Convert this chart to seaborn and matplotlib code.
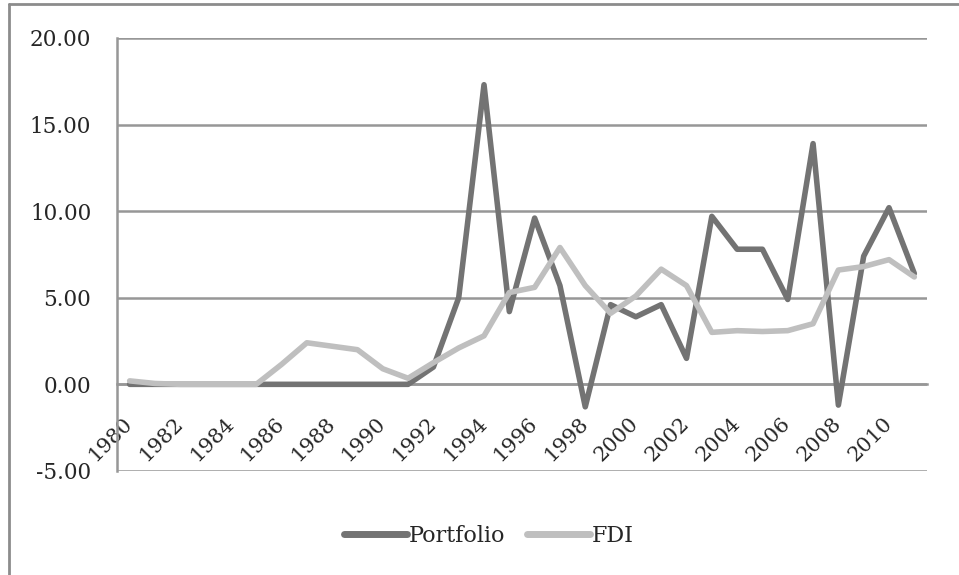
import matplotlib
matplotlib.use("Agg")
import matplotlib.pyplot as plt
from matplotlib.lines import Line2D
import matplotlib.transforms as mtrans
import seaborn as sns
import pandas as pd
import numpy as np

years = [str(y) for y in range(1980, 2012)]
portfolio = [0, 0, 0, 0, 0, 0, 0, 0, 0, 0, 0, 0, 1.0, 5.0, 17.3, 4.2, 9.6, 5.7,
             -1.3, 4.6, 3.9, 4.6, 1.5, 9.7, 7.8, 7.8, 4.9, 13.9, -1.2, 7.4, 10.2, 6.4]
fdi = [0.2, 0.05, 0, 0, 0, 0, 1.15, 2.4, 2.2, 2.0, 0.9, 0.35, 1.25, 2.1, 2.8, 5.3,
       5.6, 7.9, 5.7, 4.1, 5.1, 6.65, 5.7, 3.0, 3.1, 3.05, 3.1, 3.5, 6.6, 6.8, 7.2, 6.2]
series_names = ["Portfolio", "FDI"]
y_ticks = [-5, 0, 5, 10, 15, 20]

sns.set_style("white")
plt.rcParams['font.family'] = ['DejaVu Serif']

idx = np.arange(len(years))
df = pd.DataFrame({
    "idx": np.concatenate([idx, idx]),
    "value": portfolio + fdi,
    "series": [series_names[0]] * len(years) + [series_names[1]] * len(years),
})
colors = {"Portfolio": "#737373", "FDI": "#bfbfbf"}

fig = plt.figure(figsize=(9.59, 5.75), dpi=100)
ax = fig.add_axes([0.122, 0.181, 0.8446, 0.753])

grid_c = "#979797"
for v in y_ticks:
    ax.axhline(v, color=grid_c, lw=1.8, zorder=0)

sns.lineplot(data=df, x="idx", y="value", hue="series", palette=colors,
             hue_order=series_names, linewidth=4.0, ax=ax, legend=False,
             zorder=3)
for ln in ax.lines[len(y_ticks):]:
    ln.set_solid_capstyle("round")
    ln.set_solid_joinstyle("round")

ax.set_xlim(-0.5, len(years) - 0.5)
ax.set_ylim(-5, 20)
ax.set_xlabel("")
ax.set_ylabel("")

for s in ["top", "right"]:
    ax.spines[s].set_visible(False)
ax.spines["bottom"].set_position(("data", 0))
ax.spines["bottom"].set_color(grid_c)
ax.spines["bottom"].set_linewidth(1.8)
ax.spines["left"].set_color(grid_c)
ax.spines["left"].set_linewidth(1.8)

ax.set_yticks(y_ticks)
ax.set_yticklabels([f"{v:.2f}" for v in y_ticks], fontsize=15.5)
ax.tick_params(axis="y", length=6.5, width=1.8, color=grid_c, pad=12, direction="out")

ax.set_xticks(idx[::2])
ax.set_xticklabels(years[::2], fontsize=15, rotation=45, ha="right",
                   va="center", rotation_mode="anchor")
ax.set_xticks(np.arange(-0.5, len(years)), minor=True)
ax.tick_params(axis="x", which="major", length=0, pad=26)
ax.tick_params(axis="x", which="minor", length=5, width=1.8, color=grid_c, direction="out")
offset = mtrans.ScaledTranslation(0 / 72, 0, fig.dpi_scale_trans)
for lab in ax.get_xticklabels():
    lab.set_transform(lab.get_transform() + offset)

handles = [Line2D([0], [0], color=colors[n], lw=5, solid_capstyle="round") for n in series_names]
fig.legend(handles, series_names, loc="center", bbox_to_anchor=(0.51, 0.068),
           ncol=2, frameon=False, fontsize=16, handlelength=2.8,
           handletextpad=0.1, columnspacing=1.0)

frame_c = "#8c8c8c"
fig.add_artist(Line2D([0.009, 1.0], [0.993, 0.993], color=frame_c, lw=2, transform=fig.transFigure))
fig.add_artist(Line2D([0.0094, 0.0094], [0.0, 0.993], color=frame_c, lw=2, transform=fig.transFigure))

fig.savefig("out.png", dpi=100)
